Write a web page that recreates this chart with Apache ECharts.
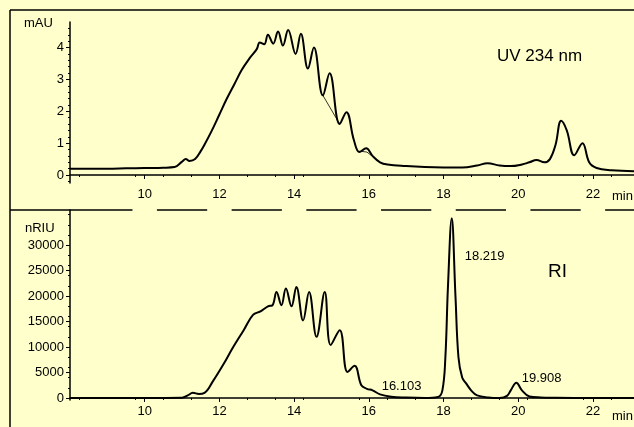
<!DOCTYPE html>
<html><head><meta charset="utf-8">
<script src="https://cdn.jsdelivr.net/npm/echarts@6/dist/echarts.min.js"></script>
<style>html,body{margin:0;padding:0;background:#FFFFCC}#c{width:634px;height:427px}</style>
</head><body><div id="c"></div>
<script>
// UV 234 nm trace: [time(min), mAU]
const uvTime = [8.0,8.5,9,9.5,10,10.5,10.8,11.0,11.1,11.2,11.35,11.5,11.6,11.8,12.0,12.2,12.4,12.6,12.8,13.0,13.08,13.2,13.30,13.44,13.57,13.70,13.84,14.04,14.18,14.37,14.53,14.77,14.95,15.22,15.40,15.6,15.75,15.93,16.1,16.3,16.5,17.0,17.5,18.0,18.5,18.9,19.18,19.5,19.8,20.1,20.3,20.49,20.7,20.85,21.0,21.15,21.3,21.5,21.72,21.9,22.1,22.5,23.1];
const uvVal  = [0.2,0.2,0.2,0.21,0.22,0.23,0.25,0.42,0.5,0.44,0.5,0.75,0.95,1.4,1.9,2.4,2.85,3.3,3.65,3.95,4.16,4.1,4.4,4.12,4.5,4.06,4.55,3.8,4.43,3.34,4.0,2.5,3.19,1.6,1.97,1.1,0.72,0.84,0.6,0.4,0.33,0.28,0.25,0.24,0.24,0.3,0.37,0.3,0.28,0.33,0.4,0.47,0.4,0.5,0.95,1.7,1.4,0.62,1.0,0.4,0.22,0.15,0.12];
// thin baseline drop segments in the UV trace
const uvBaseTime = [14.77,15.22,null,15.75,15.95,16.3];
const uvBaseVal  = [2.5,1.6,null,0.75,0.72,0.4];
// RI trace: [time(min), nRIU]
const riTime = [8.0,9,10,11.0,11.15,11.29,11.45,11.6,11.82,12.1,12.37,12.65,12.9,13.1,13.3,13.42,13.53,13.66,13.78,13.93,14.06,14.24,14.4,14.6,14.82,14.98,15.22,15.43,15.62,15.8,15.95,16.1,16.3,16.6,17.0,17.5,17.85,17.97,18.05,18.12,18.22,18.32,18.4,18.5,18.6,18.75,18.9,19.2,19.5,19.7,19.8,19.95,20.1,20.3,20.6,21,22,23.1];
const riVal  = [0,0,0,50,500,1000,800,1000,3200,6500,10000,13300,16300,17000,18000,18200,20800,18200,21500,18000,21800,15200,20800,12000,20800,10400,13300,5100,6300,2500,1800,1500,700,250,80,0,200,1500,8000,22000,35300,20000,8000,4000,2900,1400,500,100,0,400,1500,3000,1500,300,100,50,0,0];
const uvTicks = [0,1,2,3,4];
const riTicks = [0,5000,10000,15000,20000,25000,30000];
const xTicks = [10,12,14,16,18,20,22];
const riPeaks = [[16.103,1500,'16.103',[4,-4]],[18.219,35300,'18.219',[8,38]],[19.908,3000,'19.908',[2,-4]]];

const zip=(a,b)=>a.map((t,i)=>[t,b[i]]);
const font='"Liberation Sans", Arial, sans-serif';
const lab={color:'#000',fontFamily:font,fontSize:13};
function xAx(idx,top){return {gridIndex:idx,type:'value',min:8,max:23.1,
  axisLine:{lineStyle:{color:'#000',width:1.5}},
  axisTick:{show:true,length:4,inside:false,customValues:xTicks,lineStyle:{color:'#000'}},
  minorTick:{show:true,splitNumber:4,length:2,lineStyle:{color:'#000'}},
  splitLine:{show:false},
  axisLabel:Object.assign({customValues:xTicks,margin:5,
     backgroundColor:top?'#FFFFCC':'transparent',padding:top?[0,5,12,5]:0},lab)};}
function yAx(idx,min,max,ticks){return {gridIndex:idx,type:'value',min:min,max:max,
  axisLine:{show:true,lineStyle:{color:'#000',width:1.5}},
  axisTick:{show:true,length:4,customValues:ticks,lineStyle:{color:'#000'}},
  minorTick:{show:true,splitNumber:5,length:2,lineStyle:{color:'#000'}},
  splitLine:{show:false},
  axisLabel:Object.assign({customValues:ticks,margin:6,formatter:v=>String(v)},lab)};}
const chart=echarts.init(document.getElementById('c'));
chart.setOption({
  backgroundColor:'#FFFFCC',animation:false,
  grid:[{left:70,top:22,right:0,height:161},{left:70,top:210,right:0,height:190}],
  xAxis:[xAx(0,true),xAx(1,false)],
  yAxis:[yAx(0,-0.25,4.8,uvTicks),yAx(1,-400,36900,riTicks)],
  graphic:[
    {type:'line',z:-1,shape:{x1:10,y1:10,x2:634,y2:10},style:{stroke:'#000',lineWidth:1.5}},
    {type:'line',z:-1,shape:{x1:10,y1:10,x2:10,y2:427},style:{stroke:'#000',lineWidth:1.5}},
    {type:'line',z:-1,shape:{x1:10,y1:210,x2:634,y2:210},style:{stroke:'#000',lineWidth:1.5}},
    {type:'text',left:24,top:17,style:{text:'mAU',font:'13px '+font,fill:'#000'}},
    {type:'text',left:25,top:222,style:{text:'nRIU',font:'13px '+font,fill:'#000'}},
    {type:'text',left:612,top:190,style:{text:'min',font:'13px '+font,fill:'#000'}},
    {type:'text',left:612,top:410,style:{text:'min',font:'13px '+font,fill:'#000'}},
    {type:'text',left:497,top:48,style:{text:'UV 234 nm',font:'17px '+font,fill:'#000'}},
    {type:'text',left:548,top:262,style:{text:'RI',font:'19px '+font,fill:'#000'}}
  ],
  series:[
    {type:'line',xAxisIndex:0,yAxisIndex:0,data:zip(uvTime,uvVal),smooth:0.4,showSymbol:false,lineStyle:{color:'#000',width:2}},
    {type:'line',xAxisIndex:0,yAxisIndex:0,data:zip(uvBaseTime,uvBaseVal),showSymbol:false,connectNulls:false,lineStyle:{color:'#000',width:0.8}},
    {type:'line',xAxisIndex:1,yAxisIndex:1,data:zip(riTime,riVal),smooth:0.4,showSymbol:false,lineStyle:{color:'#000',width:2},
     markPoint:{symbolSize:0,data:riPeaks.map(p=>({coord:[p[0],p[1]],value:p[2],label:{offset:p[3]}})),
       label:{show:true,formatter:'{c}',position:'right',color:'#000',fontFamily:font,fontSize:13}}}
  ]
});
</script></body></html>
